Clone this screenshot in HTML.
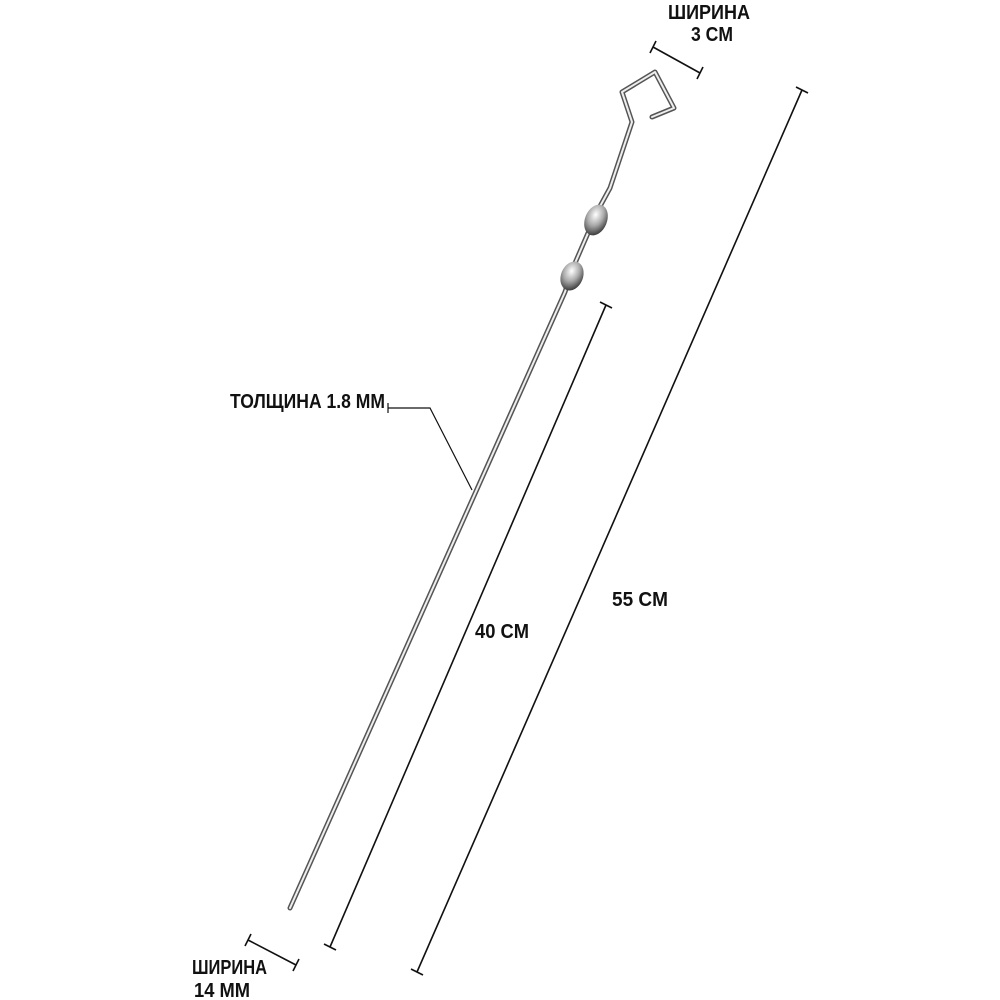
<!DOCTYPE html>
<html><head><meta charset="utf-8"><style>
html,body{margin:0;padding:0;background:#fff;}
svg{display:block}
text{font-family:"Liberation Sans Narrow","Liberation Sans",sans-serif;font-weight:bold;font-size:20px;fill:#111;}
</style></head><body>
<svg width="1000" height="1000" viewBox="0 0 1000 1000" xmlns="http://www.w3.org/2000/svg">
<defs>
<radialGradient id="b" cx="0.4" cy="0.35" r="0.7">
<stop offset="0" stop-color="#fff"/><stop offset="0.5" stop-color="#aaa"/><stop offset="1" stop-color="#333"/>
</radialGradient>
</defs>
<g stroke="#111" stroke-width="1.6" fill="none">
<line x1="802" y1="90" x2="417" y2="972"/>
<line x1="796" y1="87" x2="808" y2="93"/><line x1="411" y1="969" x2="423" y2="975"/>
<line x1="606" y1="305" x2="330" y2="947"/>
<line x1="600" y1="302" x2="612" y2="308"/><line x1="324" y1="944" x2="336" y2="950"/>
<line x1="653" y1="47" x2="700" y2="73"/>
<line x1="650" y1="53" x2="656" y2="41"/><line x1="697" y1="79" x2="703" y2="67"/>
<line x1="248" y1="940" x2="296" y2="965"/>
<line x1="245" y1="946" x2="251" y2="934"/><line x1="293" y1="971" x2="299" y2="959"/>
<polyline points="388,408 430,408 472,490" stroke-width="1.2"/>
<line x1="388" y1="403" x2="388" y2="413" stroke-width="1.2"/>
</g>
<g fill="none" stroke-linecap="round" stroke-linejoin="round">
<polyline points="290,908 565,292 572,270 598,210 610,188 632,122 622,92 655,72 674,108 652,117" stroke="#555" stroke-width="5"/>
<polyline points="290,908 565,292 572,270 598,210 610,188 632,122 622,92 655,72 674,108 652,117" stroke="#eee" stroke-width="2"/>
</g>
<ellipse cx="572" cy="276" rx="11" ry="15" fill="url(#b)" transform="rotate(22 572 276)"/>
<ellipse cx="596" cy="220" rx="11" ry="16" fill="url(#b)" transform="rotate(22 596 220)"/>
<text x="668" y="19" textLength="82" lengthAdjust="spacingAndGlyphs">ШИРИНА</text>
<text x="691" y="41" textLength="42" lengthAdjust="spacingAndGlyphs">3 CM</text>
<text x="612" y="606" textLength="56" lengthAdjust="spacingAndGlyphs">55 CM</text>
<text x="475" y="638" textLength="54" lengthAdjust="spacingAndGlyphs">40 CM</text>
<text x="230" y="408" textLength="155" lengthAdjust="spacingAndGlyphs">ТОЛЩИНА 1.8 MM</text>
<text x="192" y="974" textLength="75" lengthAdjust="spacingAndGlyphs">ШИРИНА</text>
<text x="194" y="997" textLength="56" lengthAdjust="spacingAndGlyphs">14 MM</text>
</svg>
</body></html>
